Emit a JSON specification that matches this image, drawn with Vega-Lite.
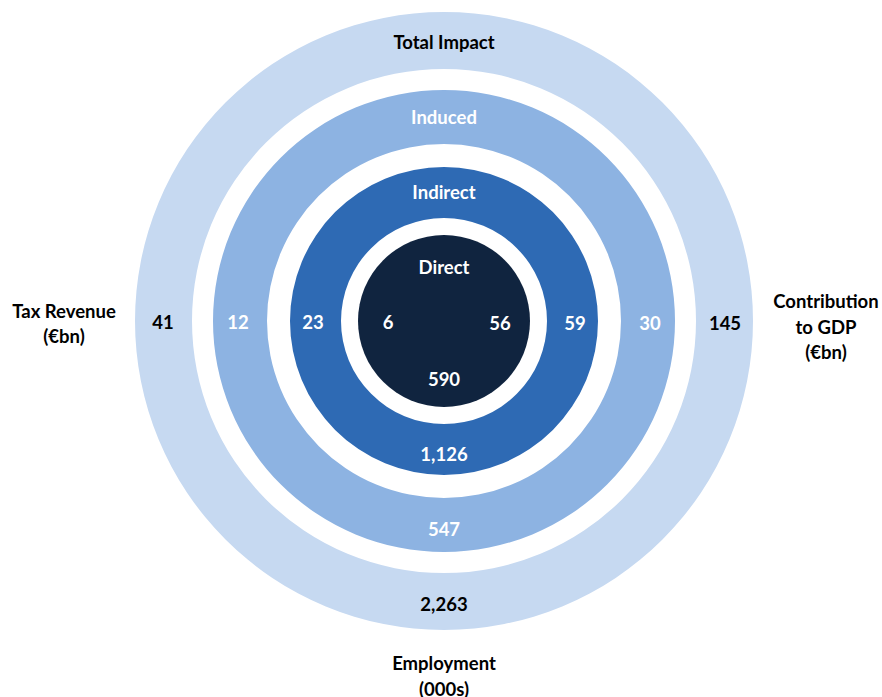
{
  "$schema": "https://vega.github.io/schema/vega-lite/v6.json",
  "width": 876,
  "height": 642,
  "padding": {"left": 6, "top": 0, "right": 0, "bottom": 55},
  "autosize": {"type": "none"},
  "background": "white",
  "config": {
    "view": {"stroke": null},
    "text": {"font": "Lato", "fontWeight": "bold", "fontSize": 18.5}
  },
  "datasets": {
    "rings": [
      {"ring": "Total Impact"},
      {"ring": "Induced"},
      {"ring": "Indirect"},
      {"ring": "Direct"}
    ],
    "values": [
      {"ring": "Direct", "metric": "Tax", "value": 6},
      {"ring": "Direct", "metric": "GDP", "value": 56},
      {"ring": "Direct", "metric": "Employment", "value": 590},
      {"ring": "Indirect", "metric": "Tax", "value": 23},
      {"ring": "Indirect", "metric": "GDP", "value": 59},
      {"ring": "Indirect", "metric": "Employment", "value": 1126},
      {"ring": "Induced", "metric": "Tax", "value": 12},
      {"ring": "Induced", "metric": "GDP", "value": 30},
      {"ring": "Induced", "metric": "Employment", "value": 547},
      {"ring": "Total Impact", "metric": "Tax", "value": 41},
      {"ring": "Total Impact", "metric": "GDP", "value": 145},
      {"ring": "Total Impact", "metric": "Employment", "value": 2263}
    ],
    "metrics": [
      {"metric": "Tax", "label": ["Tax Revenue", "(€bn)"]},
      {"metric": "GDP", "label": ["Contribution", "to GDP", "(€bn)"]},
      {"metric": "Employment", "label": ["Employment", "(000s)"]}
    ]
  },
  "layer": [
    {
      "data": {"name": "rings"},
      "transform": [{"filter": "datum.ring === 'Total Impact'"}],
      "mark": {"type": "arc", "radius": 309, "radius2": 252, "theta": 0, "theta2": 6.2832},
      "encoding": {
        "color": {"field": "ring", "type": "nominal", "legend": null,
          "scale": {"domain": ["Total Impact", "Induced", "Indirect", "Direct"], "range": ["#C6D9F1", "#8DB3E2", "#2E6AB4", "#10243F"]}}
      }
    },
    {
      "data": {"name": "rings"},
      "transform": [{"filter": "datum.ring === 'Induced'"}],
      "mark": {"type": "arc", "radius": 231, "radius2": 177, "theta": 0, "theta2": 6.2832},
      "encoding": {
        "color": {"field": "ring", "type": "nominal", "legend": null}
      }
    },
    {
      "data": {"name": "rings"},
      "transform": [{"filter": "datum.ring === 'Indirect'"}],
      "mark": {"type": "arc", "radius": 154, "radius2": 103, "theta": 0, "theta2": 6.2832},
      "encoding": {
        "color": {"field": "ring", "type": "nominal", "legend": null}
      }
    },
    {
      "data": {"name": "rings"},
      "transform": [{"filter": "datum.ring === 'Direct'"}],
      "mark": {"type": "arc", "radius": 86, "radius2": 0, "theta": 0, "theta2": 6.2832},
      "encoding": {
        "color": {"field": "ring", "type": "nominal", "legend": null}
      }
    },
    {
      "data": {"name": "rings"},
      "mark": {"type": "text", "align": "center", "baseline": "middle", "dy": 3},
      "encoding": {
        "text": {"field": "ring"},
        "theta": {"value": 0},
        "radius": {"field": "ring", "type": "nominal",
          "scale": {"type": "point", "domain": ["Direct", "Indirect", "Induced", "Total Impact"], "range": [56, 281], "padding": 0}},
        "color": {"condition": {"test": "datum.ring === 'Total Impact'", "value": "#000000"}, "value": "#FFFFFF"}
      }
    },
    {
      "data": {"name": "values"},
      "mark": {"type": "text", "align": "center", "baseline": "middle", "dy": 2.5},
      "encoding": {
        "text": {"field": "value", "type": "quantitative", "format": ","},
        "theta": {"field": "metric", "type": "nominal",
          "scale": {"type": "point", "domain": ["GDP", "Employment", "Tax"], "range": [1.5708, 4.7124], "padding": 0}},
        "radius": {"field": "ring", "type": "nominal",
          "scale": {"type": "point", "domain": ["Direct", "Indirect", "Induced", "Total Impact"], "range": [56, 281], "padding": 0}},
        "color": {"condition": {"test": "datum.ring === 'Total Impact'", "value": "#000000"}, "value": "#FFFFFF"}
      }
    },
    {
      "data": {"name": "metrics"},
      "transform": [{"filter": "datum.metric === 'Tax'"}],
      "mark": {"type": "text", "align": "center", "baseline": "middle", "lineHeight": 25.5, "color": "#000000", "dy": -9},
      "encoding": {
        "text": {"field": "label"},
        "theta": {"field": "metric", "type": "nominal"},
        "radius": {"value": 380}
      }
    },
    {
      "data": {"name": "metrics"},
      "transform": [{"filter": "datum.metric === 'GDP'"}],
      "mark": {"type": "text", "align": "center", "baseline": "middle", "lineHeight": 25.5, "color": "#000000", "dy": -19},
      "encoding": {
        "text": {"field": "label"},
        "theta": {"field": "metric", "type": "nominal"},
        "radius": {"value": 382}
      }
    },
    {
      "data": {"name": "metrics"},
      "transform": [{"filter": "datum.metric === 'Employment'"}],
      "mark": {"type": "text", "align": "center", "baseline": "middle", "lineHeight": 25.5, "color": "#000000", "dy": 1},
      "encoding": {
        "text": {"field": "label"},
        "theta": {"field": "metric", "type": "nominal"},
        "radius": {"value": 342}
      }
    }
  ]
}
